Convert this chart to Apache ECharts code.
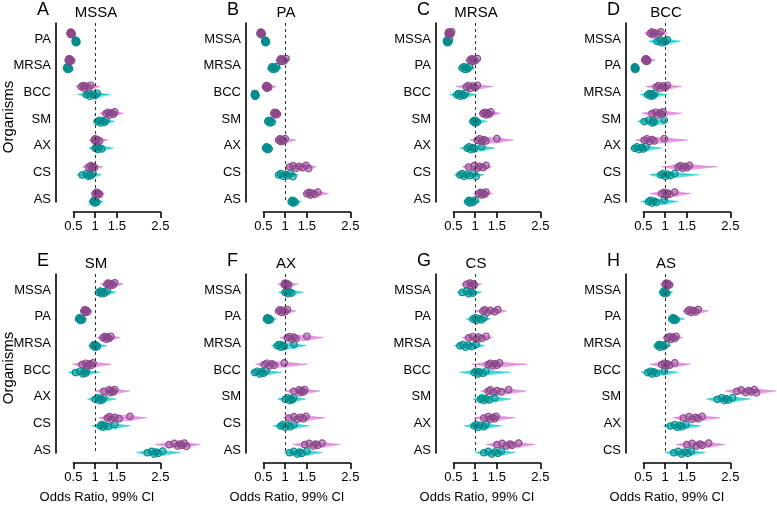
<!DOCTYPE html>
<html><head><meta charset="utf-8">
<script src="https://cdn.jsdelivr.net/npm/echarts@6/dist/echarts.min.js"></script>
<style>html,body{margin:0;padding:0;background:#fff}#c{width:777px;height:506px}</style>
</head><body><div id="c"></div>
<script>
// ---------- DATA ----------
const panelLetters = ['A','B','C','D','E','F','G','H'];
const panelTitles = ['MSSA','PA','MRSA','BCC','SM','AX','CS','AS'];
const xTicks = [0.5, 1, 1.5, 2.5];

const catsA = ['PA','MRSA','BCC','SM','AX','CS','AS'];
const catsB = ['MSSA','MRSA','BCC','SM','AX','CS','AS'];
const catsC = ['MSSA','PA','BCC','SM','AX','CS','AS'];
const catsD = ['MSSA','PA','MRSA','SM','AX','CS','AS'];
const catsE = ['MSSA','PA','MRSA','BCC','AX','CS','AS'];
const catsF = ['MSSA','PA','MRSA','BCC','SM','CS','AS'];
const catsG = ['MSSA','PA','MRSA','BCC','SM','AX','AS'];
const catsH = ['MSSA','PA','MRSA','BCC','SM','AX','CS'];

// each group: [CI low, CI high, [estimates]]
const magA = [
  [0.40,0.50,[0.42,0.44,0.45,0.46,0.47]],
  [0.36,0.48,[0.38,0.40,0.41,0.43,0.46]],
  [0.55,1.12,[0.68,0.72,0.75,0.78,0.85,0.90]],
  [1.10,1.65,[1.25,1.30,1.33,1.38,1.42,1.45]],
  [0.85,1.30,[0.98,1.00,1.02,1.05,1.10]],
  [0.70,1.18,[0.85,0.90,0.93,0.95,0.98]],
  [0.90,1.22,[1.00,1.03,1.05,1.07,1.10]]];
const cyanA = [
  [0.52,0.61,[0.54,0.55,0.56,0.57,0.58]],
  [0.33,0.43,[0.34,0.36,0.37,0.39,0.41]],
  [0.60,1.35,[0.80,0.85,0.88,0.95,1.00,1.05]],
  [0.95,1.45,[1.05,1.10,1.13,1.17,1.22,1.25]],
  [0.85,1.42,[1.00,1.03,1.06,1.10,1.15]],
  [0.58,1.15,[0.70,0.80,0.84,0.87,0.90,0.95]],
  [0.85,1.18,[0.95,0.97,0.99,1.01,1.04]]];

const magB = [
  [0.40,0.50,[0.42,0.44,0.45,0.46,0.47]],
  [0.78,1.10,[0.88,0.90,0.92,0.95,0.98,1.02]],
  [0.45,0.80,[0.55,0.57,0.58,0.60,0.62]],
  [0.66,0.92,[0.74,0.76,0.78,0.80,0.82]],
  [0.77,1.25,[0.85,0.88,0.90,0.93,0.96,1.00]],
  [1.00,1.72,[1.10,1.18,1.25,1.32,1.40,1.48,1.54]],
  [1.40,2.00,[1.50,1.55,1.58,1.62,1.68,1.75]]];
const cyanB = [
  [0.51,0.60,[0.53,0.54,0.55,0.56,0.57]],
  [0.60,0.92,[0.68,0.70,0.72,0.75,0.78,0.80]],
  [0.27,0.35,[0.29,0.30,0.31,0.32,0.33]],
  [0.53,0.80,[0.60,0.63,0.65,0.67,0.70]],
  [0.49,0.72,[0.55,0.57,0.59,0.61,0.63]],
  [0.78,1.30,[0.85,0.90,0.95,1.00,1.05,1.12,1.18]],
  [1.06,1.37,[1.14,1.16,1.18,1.20,1.23]]];

const magC = [
  [0.36,0.48,[0.38,0.39,0.40,0.42,0.44,0.46]],
  [0.78,1.13,[0.88,0.92,0.94,0.96,1.00,1.05]],
  [0.55,1.42,[0.80,0.85,0.90,0.95,1.00,1.05]],
  [1.08,1.58,[1.18,1.22,1.25,1.28,1.32,1.36]],
  [0.88,1.88,[1.05,1.10,1.15,1.20,1.25,1.50]],
  [0.70,1.38,[0.85,0.98,1.05,1.10,1.18,1.25]],
  [0.95,1.40,[1.08,1.12,1.15,1.18,1.22,1.25]]];
const cyanC = [
  [0.32,0.43,[0.34,0.35,0.36,0.37,0.39,0.41]],
  [0.62,1.00,[0.70,0.74,0.77,0.80,0.83,0.87]],
  [0.42,1.05,[0.58,0.62,0.66,0.70,0.74,0.78]],
  [0.85,1.28,[0.95,0.98,1.00,1.02,1.05]],
  [0.65,1.45,[0.82,0.86,0.90,0.94,0.98,1.15]],
  [0.52,1.20,[0.65,0.70,0.75,0.80,0.88,0.95,1.02]],
  [0.73,1.12,[0.83,0.86,0.88,0.90,0.95,1.00]]];

const magD = [
  [0.52,1.05,[0.66,0.70,0.72,0.76,0.85,0.90]],
  [0.45,0.78,[0.53,0.55,0.57,0.58,0.60]],
  [0.55,1.38,[0.80,0.85,0.90,0.95,1.00,1.05]],
  [0.46,1.38,[0.70,0.78,0.83,0.88,0.92,0.95]],
  [0.32,1.52,[0.52,0.58,0.64,0.70,0.75,0.98]],
  [0.92,2.20,[1.30,1.35,1.40,1.45,1.50,1.56]],
  [0.65,1.58,[0.92,0.98,1.02,1.05,1.10,1.22]]];
const cyanD = [
  [0.62,1.35,[0.82,0.88,0.92,0.98,1.00,1.05]],
  [0.27,0.36,[0.29,0.30,0.31,0.32,0.33]],
  [0.42,1.05,[0.60,0.64,0.67,0.70,0.73,0.76]],
  [0.36,1.05,[0.52,0.62,0.70,0.72,0.75,0.98]],
  [0.20,0.92,[0.30,0.35,0.40,0.45,0.50,0.56]],
  [0.64,1.78,[0.90,0.95,1.00,1.05,1.12,1.22]],
  [0.44,1.30,[0.62,0.66,0.70,0.74,0.80,0.98]]];

const magE = [
  [1.12,1.65,[1.27,1.30,1.33,1.37,1.41,1.45]],
  [0.66,0.92,[0.74,0.76,0.78,0.80,0.83]],
  [1.05,1.58,[1.18,1.22,1.25,1.28,1.32,1.36]],
  [0.48,1.38,[0.70,0.78,0.82,0.88,0.92,0.95]],
  [1.00,1.80,[1.20,1.32,1.35,1.38,1.42,1.45]],
  [1.08,2.18,[1.28,1.33,1.38,1.45,1.55,1.80]],
  [2.38,3.42,[2.70,2.82,2.90,2.95,3.00,3.05,3.10]]];
const cyanE = [
  [0.98,1.48,[1.08,1.12,1.15,1.18,1.22,1.28]],
  [0.55,0.80,[0.62,0.64,0.66,0.68,0.71]],
  [0.85,1.27,[0.95,0.98,1.00,1.02,1.05]],
  [0.38,1.12,[0.55,0.65,0.72,0.75,0.78,0.80]],
  [0.82,1.48,[1.00,1.06,1.10,1.13,1.16,1.20]],
  [0.92,1.80,[1.12,1.15,1.18,1.22,1.30,1.45]],
  [1.96,2.96,[2.20,2.30,2.36,2.40,2.45,2.55]]];

const magF = [
  [0.82,1.30,[0.98,1.00,1.02,1.05,1.08]],
  [0.77,1.25,[0.85,0.88,0.92,0.95,1.00,1.05]],
  [0.88,1.88,[1.05,1.10,1.15,1.20,1.25,1.50]],
  [0.32,1.52,[0.52,0.58,0.64,0.70,0.75,0.98]],
  [1.00,1.80,[1.20,1.32,1.35,1.38,1.42,1.45]],
  [0.96,1.92,[1.08,1.20,1.28,1.35,1.42,1.48]],
  [1.18,2.27,[1.45,1.55,1.65,1.70,1.75,1.85]]];
const cyanF = [
  [0.85,1.42,[1.00,1.03,1.06,1.10,1.15]],
  [0.50,0.80,[0.57,0.59,0.61,0.63,0.66]],
  [0.68,1.48,[0.82,0.86,0.90,0.94,0.98,1.20]],
  [0.20,0.92,[0.30,0.36,0.42,0.46,0.50,0.56]],
  [0.82,1.48,[1.00,1.06,1.10,1.13,1.16,1.20]],
  [0.72,1.55,[0.90,0.95,1.00,1.05,1.12,1.20]],
  [0.98,1.85,[1.10,1.20,1.28,1.33,1.38,1.50]]];

const magG = [
  [0.68,1.15,[0.80,0.88,0.92,0.95,0.98]],
  [1.00,1.72,[1.18,1.22,1.28,1.35,1.45,1.52]],
  [0.70,1.40,[0.85,0.95,1.02,1.08,1.15,1.25]],
  [0.92,2.20,[1.30,1.35,1.40,1.45,1.50,1.56]],
  [1.12,2.18,[1.30,1.35,1.42,1.50,1.60,1.77]],
  [0.98,1.92,[1.20,1.30,1.35,1.40,1.45,1.48]],
  [1.25,2.38,[1.50,1.62,1.72,1.80,1.85,2.00]]];
const cyanG = [
  [0.58,1.15,[0.70,0.80,0.85,0.90,0.95]],
  [0.79,1.35,[0.95,1.00,1.03,1.08,1.15,1.20]],
  [0.52,1.22,[0.65,0.72,0.78,0.85,0.92,1.02]],
  [0.64,1.82,[0.98,1.02,1.06,1.10,1.18,1.25]],
  [0.95,1.82,[1.12,1.16,1.20,1.25,1.32,1.45]],
  [0.75,1.60,[0.98,1.02,1.06,1.12,1.20,1.25]],
  [1.00,1.92,[1.20,1.30,1.38,1.45,1.52,1.60]]];

const magH = [
  [0.88,1.20,[1.00,1.03,1.05,1.07,1.10]],
  [1.40,2.00,[1.52,1.56,1.60,1.64,1.70,1.76]],
  [0.93,1.40,[1.05,1.10,1.14,1.17,1.22,1.25]],
  [0.65,1.58,[0.92,0.98,1.02,1.05,1.10,1.22]],
  [2.38,3.55,[2.65,2.75,2.85,2.92,2.98,3.05,3.10]],
  [1.18,2.27,[1.42,1.55,1.62,1.70,1.76,1.85]],
  [1.25,2.38,[1.50,1.62,1.72,1.80,1.85,2.00]]];
const cyanH = [
  [0.84,1.18,[0.95,0.97,0.99,1.01,1.04]],
  [1.07,1.45,[1.15,1.18,1.20,1.22,1.25]],
  [0.72,1.13,[0.83,0.86,0.88,0.92,0.96,1.02]],
  [0.44,1.30,[0.60,0.66,0.70,0.74,0.80,0.98]],
  [1.95,2.96,[2.20,2.30,2.36,2.40,2.45,2.55]],
  [0.96,1.82,[1.12,1.22,1.28,1.33,1.38,1.48]],
  [1.00,1.92,[1.20,1.30,1.38,1.45,1.52,1.60]]];

const panelCats = [catsA,catsB,catsC,catsD,catsE,catsF,catsG,catsH];
const panelMag = [magA,magB,magC,magD,magE,magF,magG,magH];
const panelCyan = [cyanA,cyanB,cyanC,cyanD,cyanE,cyanF,cyanG,cyanH];

// ---------- LAYOUT / STYLE ----------
const FONT = 'Liberation Sans, Arial, Helvetica, sans-serif';
const PX_PER_UNIT = 43.5;
const X_MIN = 0.1, X_MAX = 3.2;
const panelX = [0,190,380,570];
const panelY = [0,251];
const MAG_OFF = -0.21, CYAN_OFF = 0.09;
const jitter = [0,-0.05,0.05,-0.025,0.025,-0.06,0.06];
const magFlame = 'rgba(218,112,214,0.6)';
const cyanFlame = 'rgba(0,200,205,0.6)';
const magPt = '#8B4789';
const cyanPt = '#008B8B';

const grids = [], xAxes = [], yAxes = [], series = [], graphics = [];

function flameRender(color){
  return function(params, api){
    const y = api.value(4);
    const a = api.coord([api.value(0), y]);
    const b = api.coord([api.value(2), y]);
    const c = api.coord([api.value(3), y]);
    const d = api.coord([api.value(1), y]);
    const h = 3.2;
    return {
      type:'group',
      children:[
        {type:'polygon', shape:{points:[[a[0],a[1]],[b[0],b[1]-h],[c[0],c[1]-h],[d[0],d[1]],[c[0],c[1]+h],[b[0],b[1]+h]]},
         style:{fill:color, stroke:null}},
        {type:'line', shape:{x1:a[0],y1:a[1]-0.4,x2:d[0],y2:d[1]-0.4}, style:{stroke:color, lineWidth:1.2}}
      ]
    };
  };
}

for (let p = 0; p < 8; p++) {
  const ox = panelX[p % 4], oy = panelY[Math.floor(p / 4)];
  const cats = panelCats[p];
  const gMain = 2*p, gAx = 2*p+1;
  grids.push({left: ox+56, top: oy+23, width: (X_MAX-X_MIN)*PX_PER_UNIT, height: 179});
  grids.push({left: ox+56+(0.5-X_MIN)*PX_PER_UNIT, top: oy+202, width: 2*PX_PER_UNIT, height: 10});
  xAxes.push({gridIndex:gMain, type:'value', min:X_MIN, max:X_MAX, show:false});
  xAxes.push({gridIndex:gAx, type:'value', min:0.5, max:2.5, position:'bottom',
    axisLine:{show:true, lineStyle:{color:'#000', width:1.6}},
    axisTick:{show:true, length:6, customValues:xTicks, lineStyle:{color:'#000', width:1.6}},
    axisLabel:{show:true, customValues:xTicks, margin:8, fontSize:13, color:'#000', fontFamily:FONT},
    splitLine:{show:false}});
  yAxes.push({gridIndex:gMain, type:'value', min:-0.6, max:6.1, inverse:true,
    axisLine:{show:true, lineStyle:{color:'#000', width:1.6}},
    axisTick:{show:false},
    axisLabel:{show:true, customValues:[0,1,2,3,4,5,6], formatter:(v)=>cats[Math.round(v)], margin:5,
      fontSize:13, color:'#000', fontFamily:FONT},
    splitLine:{show:false}});
  yAxes.push({gridIndex:gAx, type:'value', show:false, min:0, max:1});

  const mag = panelMag[p], cyan = panelCyan[p];
  const flameData = (groups, off) => groups.map((g, i) =>
    [g[0], g[1], Math.min(...g[2]), Math.max(...g[2]), i + off]);
  const ptData = (groups, off) => {
    const out = [];
    groups.forEach((g, i) => g[2].forEach((e, k) => out.push([e, i + off + jitter[k % jitter.length]])));
    return out;
  };
  series.push({type:'custom', xAxisIndex:gMain, yAxisIndex:gMain, clip:false, silent:true,
    renderItem: flameRender(cyanFlame), encode:{x:[0,1,2,3], y:4}, data: flameData(cyan, CYAN_OFF), z:2});
  series.push({type:'custom', xAxisIndex:gMain, yAxisIndex:gMain, clip:false, silent:true,
    renderItem: flameRender(magFlame), encode:{x:[0,1,2,3], y:4}, data: flameData(mag, MAG_OFF), z:2});
  series.push({type:'scatter', xAxisIndex:gMain, yAxisIndex:gMain, clip:false, silent:true, symbolSize:6.5,
    itemStyle:{color:'rgba(0,139,139,0.4)', borderColor:cyanPt, borderWidth:1.2, opacity:1},
    data: ptData(cyan, CYAN_OFF), z:3,
    markLine:{silent:true, symbol:'none', label:{show:false},
      lineStyle:{type:[3,3], color:'#333', width:1}, data:[{xAxis:1}]}});
  series.push({type:'scatter', xAxisIndex:gMain, yAxisIndex:gMain, clip:false, silent:true, symbolSize:6.5,
    itemStyle:{color:'rgba(139,71,137,0.4)', borderColor:magPt, borderWidth:1.2, opacity:1},
    data: ptData(mag, MAG_OFF), z:3});

  graphics.push({type:'text', left: ox+37, top: oy+1, style:{text:panelLetters[p], fontSize:18, fill:'#000', fontFamily:FONT}});
  graphics.push({type:'text', x: ox+96, y: oy+13, style:{text:panelTitles[p], fontSize:15, fill:'#000', fontFamily:FONT, align:'center', verticalAlign:'middle'}});
}
graphics.push({type:'text', x: 9, y: 117, rotation: Math.PI/2, style:{text:'Organisms', fontSize:15, fill:'#000', fontFamily:FONT, align:'center', verticalAlign:'middle'}});
graphics.push({type:'text', x: 9, y: 368, rotation: Math.PI/2, style:{text:'Organisms', fontSize:15, fill:'#000', fontFamily:FONT, align:'center', verticalAlign:'middle'}});
for (let k = 0; k < 4; k++) {
  graphics.push({type:'text', x: panelX[k]+97, y: 497, style:{text:'Odds Ratio, 99% CI', fontSize:13, fill:'#000', fontFamily:FONT, align:'center', verticalAlign:'middle'}});
}

const chart = echarts.init(document.getElementById('c'), null, {renderer:'canvas'});
chart.setOption({animation:false, backgroundColor:'#fff', grid:grids, xAxis:xAxes, yAxis:yAxes, series:series, graphic:graphics});
</script></body></html>
